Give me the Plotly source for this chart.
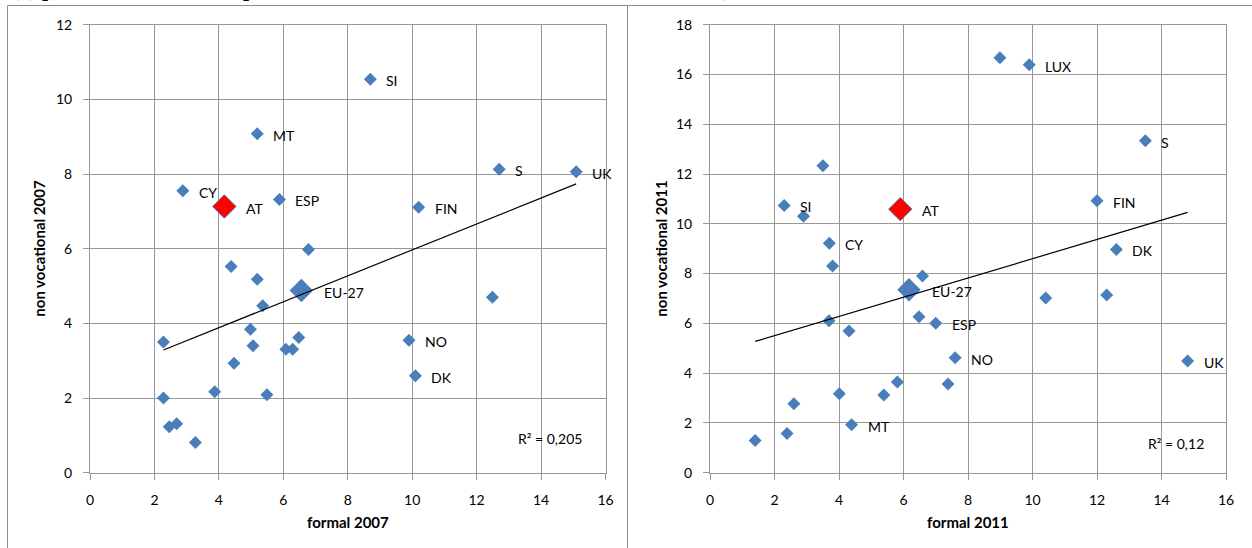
import numpy as np
import plotly.graph_objects as go

# ---------------- data: 2007 ----------------
x07 = [5.19, 2.88, 5.88, 6.78, 4.38, 8.70, 12.70, 15.09, 10.20, 5.19, 5.36, 4.98, 2.28, 5.06,
       6.08, 6.29, 6.48, 4.47, 3.87, 5.49, 2.28, 2.46, 2.69, 3.27, 12.49, 9.90, 10.10]
y07 = [9.08, 7.55, 7.32, 5.98, 5.52, 10.54, 8.13, 8.06, 7.11, 5.18, 4.47, 3.84, 3.50, 3.40,
       3.31, 3.31, 3.62, 2.93, 2.17, 2.09, 2.00, 1.23, 1.31, 0.81, 4.70, 3.55, 2.60]
lab07 = ["MT", "CY", "ESP", "", "", "SI", "S", "UK", "FIN", "", "", "", "", "",
         "", "", "", "", "", "", "", "", "", "", "", "NO", "DK"]
at07 = [4.17, 7.13]
eu07 = [6.56, 4.88]
r2_07 = "R² = 0,205"

# ---------------- data: 2011 ----------------
x11 = [3.50, 2.30, 2.90, 3.70, 3.80, 8.99, 9.90, 13.50, 12.00, 12.60, 6.59, 6.48, 7.00, 3.69,
       4.31, 7.60, 5.81, 7.38, 4.01, 5.39, 2.60, 4.39, 2.39, 1.40, 10.41, 12.30, 14.81]
y11 = [12.33, 10.74, 10.30, 9.22, 8.30, 16.67, 16.39, 13.34, 10.93, 8.97, 7.90, 6.27, 6.00, 6.11,
       5.69, 4.62, 3.64, 3.56, 3.17, 3.12, 2.77, 1.93, 1.57, 1.29, 7.02, 7.14, 4.49]
lab11 = ["", "SI", "", "CY", "", "", "LUX", "S", "FIN", "DK", "", "", "ESP", "",
         "", "NO", "", "", "", "", "", "MT", "", "", "", "", "UK"]
at11 = [5.90, 10.59]
eu11 = [6.17, 7.35]
r2_11 = "R² = 0,12"

xtitles = ["formal 2007", "formal 2011"]
ytitles = ["non vocational 2007", "non vocational 2011"]
yranges = [12, 18]
heading = "(c) persons in formal vs. persons in non vocational education, 2007 and 2011)"

W, H = 1252, 548
BLUE = "#4A7EBB"
GRID = "#989898"
FONT = "Lato"

fig = go.Figure()

def px(v):
    return v / W

def py(v):
    return (H - v) / H

panels = [
    dict(x=x07, y=y07, lab=lab07, at=at07, eu=eu07, r2=r2_07, xa="x", ya="y", r2pos=(550, 438)),
    dict(x=x11, y=y11, lab=lab11, at=at11, eu=eu11, r2=r2_11, xa="x2", ya="y2", r2pos=(1176, 443)),
]

for i, p in enumerate(panels):
    fig.add_trace(go.Scatter(x=p["x"], y=p["y"], mode="markers", xaxis=p["xa"], yaxis=p["ya"],
                             marker=dict(symbol="diamond", size=10, color=BLUE, line=dict(width=0)),
                             showlegend=False, hoverinfo="skip"))
    fig.add_trace(go.Scatter(x=[p["eu"][0]], y=[p["eu"][1]], mode="markers", xaxis=p["xa"], yaxis=p["ya"],
                             marker=dict(symbol="diamond", size=18, color=BLUE, line=dict(width=0)),
                             showlegend=False, hoverinfo="skip"))
    fig.add_trace(go.Scatter(x=[p["at"][0]], y=[p["at"][1]], mode="markers", xaxis=p["xa"], yaxis=p["ya"],
                             marker=dict(symbol="diamond", size=18, color="#FF0000",
                                         line=dict(width=1, color=BLUE)),
                             showlegend=False, hoverinfo="skip"))
    allx = np.array(p["x"] + [p["at"][0], p["eu"][0]])
    ally = np.array(p["y"] + [p["at"][1], p["eu"][1]])
    b, a = np.polyfit(allx, ally, 1)
    tx = np.array([allx.min(), allx.max()])
    fig.add_trace(go.Scatter(x=tx, y=a + b * tx, mode="lines", xaxis=p["xa"], yaxis=p["ya"],
                             line=dict(color="black", width=1.2), showlegend=False, hoverinfo="skip"))
    for xx, yy, t in zip(p["x"], p["y"], p["lab"]):
        if t:
            fig.add_annotation(x=xx, y=yy, xref=p["xa"], yref=p["ya"], text=t, showarrow=False,
                               xanchor="left", yanchor="middle", xshift=14, yshift=-1.5,
                               font=dict(family=FONT, size=14, color="black"))
    fig.add_annotation(x=p["at"][0], y=p["at"][1], xref=p["xa"], yref=p["ya"], text="AT", showarrow=False,
                       xanchor="left", yanchor="middle", xshift=20, yshift=-1.5,
                       font=dict(family=FONT, size=14, color="black"))
    fig.add_annotation(x=p["eu"][0], y=p["eu"][1], xref=p["xa"], yref=p["ya"], text="EU-27", showarrow=False,
                       xanchor="left", yanchor="middle", xshift=21, yshift=-1.5,
                       font=dict(family=FONT, size=14, color="black"))
    fig.add_annotation(x=px(p["r2pos"][0]), y=py(p["r2pos"][1]), xref="paper", yref="paper",
                       text=p["r2"], showarrow=False, xanchor="center", yanchor="middle",
                       font=dict(family=FONT, size=14, color="black"))

xcent = [(90 + 605.5) / 2, (710 + 1226) / 2]
ytitle_x = [39, 661]
for i in range(2):
    fig.add_annotation(x=px(xcent[i]), y=py(522), xref="paper", yref="paper", text="<b>%s</b>" % xtitles[i],
                       showarrow=False, xanchor="center", yanchor="middle",
                       font=dict(family=FONT, size=15, color="black"))
    fig.add_annotation(x=px(ytitle_x[i]), y=py(248.7), xref="paper", yref="paper",
                       text="<b>%s</b>" % ytitles[i], textangle=-90,
                       showarrow=False, xanchor="center", yanchor="middle",
                       font=dict(family=FONT, size=15, color="black"))

# cropped heading (only its lower edge shows, as in the source page)
fig.add_annotation(x=px(10), y=py(-1), xref="paper", yref="paper", text="<b>%s</b>" % heading,
                   showarrow=False, xanchor="left", yanchor="bottom", yshift=-4.5,
                   font=dict(family="Liberation Serif", size=22, color="black"))

for (x0, y0, x1, y1) in [(7.5, 5.5, 7.5, 548), (7.5, 5.5, 1252, 5.5), (627.5, 5.5, 627.5, 548)]:
    fig.add_shape(type="line", xref="paper", yref="paper", x0=px(x0), y0=py(y0), x1=px(x1), y1=py(y1),
                  line=dict(color="#8c8c8c", width=1))

axis_common = dict(showgrid=True, gridcolor=GRID, gridwidth=1, showline=True, linecolor=GRID, linewidth=1,
                   mirror=True, ticks="outside", ticklen=6, tickcolor=GRID, zeroline=False, dtick=2,
                   tickfont=dict(family=FONT, size=14, color="black"), ticklabelstandoff=8,
                   fixedrange=True, automargin=False)

ydom = [py(472.7), py(24.7)]
fig.update_layout(
    width=W, height=H, margin=dict(l=0, r=0, t=0, b=0, autoexpand=False),
    paper_bgcolor="white", plot_bgcolor="white",
    xaxis=dict(domain=[px(90), px(605.5)], range=[0, 16], anchor="y", **axis_common),
    yaxis=dict(domain=ydom, range=[0, yranges[0]], anchor="x", **axis_common),
    xaxis2=dict(domain=[px(710), px(1226)], range=[0, 16], anchor="y2", **axis_common),
    yaxis2=dict(domain=ydom, range=[0, yranges[1]], anchor="x2", **axis_common),
)

fig.write_html("out.html", config={"displayModeBar": False},
               post_script="document.body.style.margin='0px';document.body.style.overflow='hidden';")
